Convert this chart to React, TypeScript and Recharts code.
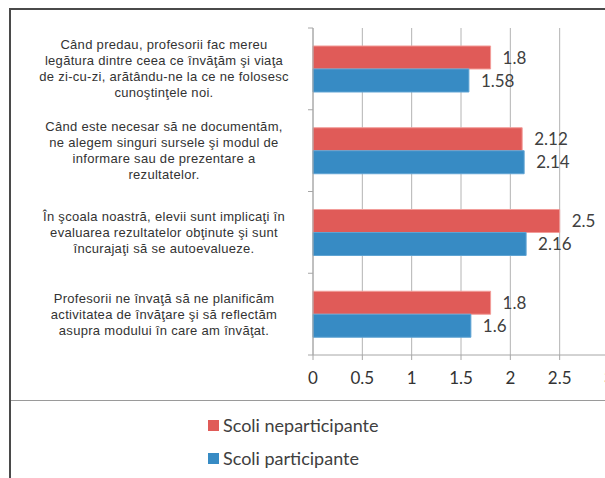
import React from "react";
import { BarChart, Bar, XAxis, YAxis, CartesianGrid, LabelList } from "recharts";

const categories: string[] = [
  "Când predau,  profesorii fac mereu\nlegătura dintre ceea ce învăţăm şi viaţa\nde zi-cu-zi, arătându-ne la ce ne folosesc\ncunoştinţele noi.",
  "Când este necesar să ne documentăm,\nne alegem singuri sursele şi modul de\ninformare sau de prezentare a\nrezultatelor.",
  "În şcoala noastră, elevii sunt implicaţi în\nevaluarea rezultatelor obţinute şi sunt\nîncurajaţi să se autoevalueze.",
  "Profesorii ne învaţă să ne planificăm\nactivitatea de învăţare şi să reflectăm\nasupra modului în care am învăţat.",
];
const neparticipante: number[] = [1.8, 2.12, 2.5, 1.8];
const participante: number[] = [1.58, 2.14, 2.16, 1.6];
const xTicks: number[] = [0, 0.5, 1, 1.5, 2, 2.5, 3];
const seriesNames = ["Scoli neparticipante", "Scoli participante"];
const seriesColors = ["#E05B58", "#378BC4"];

const data = categories.map((c, i) => ({
  cat: c,
  nep: neparticipante[i],
  par: participante[i],
}));

const PLOT_TOP = 28;
const PLOT_BOTTOM = 355;
const BAND = (PLOT_BOTTOM - PLOT_TOP) / categories.length;
const LABEL_CX = 164;

const CatTick = (props: any) => {
  const { x, y, payload, index } = props;
  const lines = String(payload.value).split("\n");
  const lh = 16;
  const start = y - ((lines.length - 1) * lh) / 2;
  return (
    <g>
      <line x1={x - 5} x2={x} y1={y - BAND / 2} y2={y - BAND / 2} stroke="#a6a6a6" />
      {index === categories.length - 1 && (
        <line x1={x - 5} x2={x} y1={y + BAND / 2} y2={y + BAND / 2} stroke="#a6a6a6" />
      )}
      <text
        x={LABEL_CX}
        y={start}
        textAnchor="middle"
        fontFamily="'Liberation Sans', Arial, sans-serif"
        fontSize={13}
        letterSpacing={0.3}
        fill="#333"
      >
        {lines.map((l, i) => (
          <tspan key={i} x={LABEL_CX} y={start + i * lh} dy="0.35em">
            {l}
          </tspan>
        ))}
      </text>
    </g>
  );
};

const numFont = "Lato, 'Open Sans', sans-serif";

export default function App() {
  return (
    <div
      style={{
        position: "absolute",
        left: 0,
        top: 0,
        width: 605,
        height: 478,
        overflow: "hidden",
        background: "#fff",
      }}
    >
      <div style={{ position: "absolute", left: 9, top: 8, width: 700, height: 2, background: "#4a4a4a" }} />
      <div style={{ position: "absolute", left: 9, top: 8, width: 2, height: 480, background: "#4a4a4a" }} />
      <div style={{ position: "absolute", left: 11, top: 400, width: 700, height: 1, background: "#9a9a9a" }} />
      <div style={{ position: "absolute", left: 0, top: 0 }}>
        <BarChart
          width={640}
          height={400}
          data={data}
          layout="vertical"
          margin={{ top: PLOT_TOP, right: 31, left: 0, bottom: 15 }}
          barCategoryGap="22%"
          barGap={0}
        >
          <CartesianGrid horizontal={false} vertical={true} stroke="#b4b4b4" />
          <XAxis
            type="number"
            domain={[0, 3]}
            ticks={xTicks}
            interval={0}
            height={30}
            stroke="#a6a6a6"
            tickSize={5}
            tickMargin={12}
            tick={{ fill: "#333", fontFamily: numFont, fontSize: 17 }}
          />
          <YAxis
            type="category"
            dataKey="cat"
            width={313}
            stroke="#a6a6a6"
            tickLine={false}
            tickSize={0}
            tickMargin={0}
            interval={0}
            tick={<CatTick />}
          />
          <Bar dataKey="nep" name={seriesNames[0]} fill={seriesColors[0]} stroke="#f29c99" strokeWidth={1} isAnimationActive={false}>
            <LabelList
              dataKey="nep"
              position="right"
              offset={12}
              style={{ fill: "#404040", fontFamily: numFont, fontSize: 17 }}
            />
          </Bar>
          <Bar dataKey="par" name={seriesNames[1]} fill={seriesColors[1]} stroke="#5fa3d3" strokeWidth={1} isAnimationActive={false}>
            <LabelList
              dataKey="par"
              position="right"
              offset={12}
              style={{ fill: "#404040", fontFamily: numFont, fontSize: 17 }}
            />
          </Bar>
        </BarChart>
      </div>
      {seriesNames.map((n, i) => (
        <div
          key={n}
          style={{
            position: "absolute",
            left: 208,
            top: 415 + i * 33,
            height: 20,
            display: "flex",
            alignItems: "center",
            fontFamily: numFont,
            fontSize: 18,
            color: "#404040",
            whiteSpace: "nowrap",
          }}
        >
          <span style={{ display: "inline-block", width: 11, height: 11, background: seriesColors[i], marginRight: 4 }} />
          {n}
        </div>
      ))}
    </div>
  );
}
